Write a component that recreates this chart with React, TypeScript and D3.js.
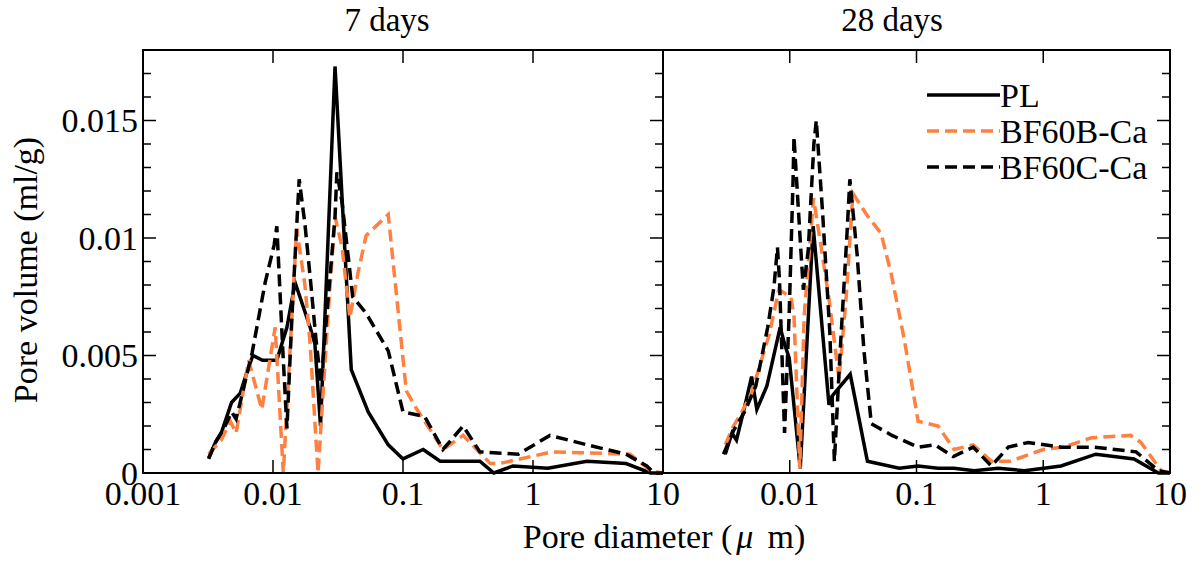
import { useEffect, useRef } from 'react'
import * as d3 from 'd3'

const WIDTH = 1204
const HEIGHT = 570
const TOP = 50
const BOTTOM = 473
const FONT = '"Liberation Serif", "Times New Roman", serif'
const ORANGE = '#ff8040'

const SERIES_NAMES = ['PL', 'BF60B-Ca', 'BF60C-Ca']
const X_TICKS = [0.001, 0.01, 0.1, 1, 10]
const Y_TICKS = [0, 0.005, 0.01, 0.015]
const Y_MINOR = [0.001, 0.002, 0.003, 0.004, 0.006, 0.007, 0.008, 0.009, 0.011, 0.012, 0.013, 0.014, 0.016, 0.017]

// [pore diameter (um), pore volume (ml/g)] — 7 days
const PL_7 = [
  [0.0032, 0.00064], [0.0036, 0.0013], [0.004, 0.0017], [0.0048, 0.003], [0.0056, 0.0034],
  [0.0064, 0.0044], [0.007, 0.005], [0.0083, 0.0048], [0.0107, 0.0048], [0.0128, 0.0062],
  [0.0148, 0.0081], [0.0193, 0.0062], [0.021, 0.0055], [0.0232, 0.002], [0.03, 0.0173],
  [0.04, 0.0044], [0.054, 0.0026], [0.077, 0.0012], [0.1, 0.0006], [0.143, 0.001],
  [0.193, 0.0005], [0.39, 0.0005], [0.5, 0], [0.7, 0.0003], [1.3, 0.0002],
  [2.6, 0.0005], [5.2, 0.0004], [8, 0], [10, 0],
]
const B_7 = [
  [0.0032, 0.0008], [0.004, 0.0014], [0.0047, 0.0022], [0.0052, 0.0017], [0.0065, 0.0048],
  [0.0082, 0.0027], [0.0104, 0.0062], [0.012, 0], [0.014, 0.0067], [0.0152, 0.0104],
  [0.0176, 0.008], [0.0193, 0.0055], [0.0222, 0], [0.0265, 0.0067], [0.03, 0.0109],
  [0.034, 0.0096], [0.039, 0.0066], [0.045, 0.0085], [0.052, 0.0101], [0.077, 0.011],
  [0.106, 0.0035], [0.128, 0.0027], [0.203, 0.001], [0.29, 0.0016], [0.47, 0.0004],
  [0.55, 0.0004], [1.4, 0.0009], [5.6, 0.0008], [8, 0.0001], [10, 0],
]
const C_7 = [
  [0.0032, 0.0006], [0.0036, 0.0013], [0.0042, 0.0019], [0.0048, 0.0026], [0.0052, 0.0023],
  [0.0057, 0.0032], [0.0069, 0.0051], [0.0087, 0.0081], [0.0102, 0.0097], [0.0107, 0.0105],
  [0.0119, 0.0052], [0.0128, 0.0019], [0.014, 0.0067], [0.0159, 0.0125], [0.0176, 0.0106],
  [0.0195, 0.0081], [0.0214, 0.0057], [0.0234, 0.0038], [0.03, 0.0109], [0.031, 0.0128],
  [0.034, 0.0115], [0.039, 0.0086], [0.041, 0.0075], [0.052, 0.0068], [0.077, 0.0052],
  [0.1, 0.0026], [0.147, 0.0024], [0.203, 0.001], [0.29, 0.002], [0.39, 0.0009],
  [0.77, 0.0008], [1.35, 0.0016], [2.6, 0.0012], [5.2, 0.0008], [7.5, 0.0003],
  [8.5, 0], [10, 0],
]

// 28 days
const PL_28 = [
  [0.0031, 0.0008], [0.0035, 0.0017], [0.0038, 0.0014], [0.0044, 0.0028], [0.005, 0.0041],
  [0.0055, 0.0027], [0.0066, 0.0037], [0.0084, 0.0062], [0.0092, 0.0054], [0.0099, 0.0049],
  [0.0121, 0.0002], [0.0153, 0.0105], [0.0204, 0.0029], [0.0218, 0.0033], [0.03, 0.0042],
  [0.041, 0.0005], [0.073, 0.0002], [0.103, 0.0003], [0.148, 0.0002], [0.198, 0.0002],
  [0.285, 0.0001], [0.44, 0.0002], [0.71, 0.0001], [1.38, 0.0003], [2.6, 0.0008],
  [5.2, 0.0006], [8.1, 0], [10, 0],
]
const B_28 = [
  [0.0031, 0.0012], [0.0036, 0.002], [0.0041, 0.0025], [0.005, 0.0034], [0.0059, 0.0047],
  [0.0069, 0.0059], [0.0082, 0.0078], [0.0102, 0.0075], [0.0108, 0.0067], [0.012, 0.0002],
  [0.013, 0.0067], [0.0154, 0.0117], [0.0177, 0.0096], [0.0204, 0.0074], [0.0245, 0.004],
  [0.0278, 0.0074], [0.0315, 0.0119], [0.0415, 0.0109], [0.0525, 0.0102], [0.063, 0.0085],
  [0.08, 0.0057], [0.103, 0.0022], [0.148, 0.002], [0.198, 0.001], [0.28, 0.0012],
  [0.39, 0.0005], [0.55, 0.0005], [1, 0.001], [1.45, 0.0011], [2.4, 0.0015],
  [4.9, 0.0016], [5.9, 0.0013], [8.5, 0.0001], [10, 0],
]
const C_28 = [
  [0.003, 0.0008], [0.0036, 0.0018], [0.0044, 0.0026], [0.0054, 0.0037], [0.0067, 0.0062],
  [0.0075, 0.0079], [0.008, 0.0096], [0.0083, 0.0082], [0.0091, 0.0017], [0.0099, 0.0068],
  [0.0106, 0.0123], [0.0108, 0.0143], [0.0121, 0.0099], [0.0128, 0.0078], [0.014, 0.0095],
  [0.0155, 0.014], [0.0162, 0.015], [0.0182, 0.011], [0.0207, 0.006], [0.0225, 0.0005],
  [0.025, 0.0052], [0.0283, 0.0102], [0.0298, 0.0125], [0.034, 0.0093], [0.0385, 0.0052],
  [0.044, 0.0021], [0.064, 0.0016], [0.103, 0.0011], [0.14, 0.0012], [0.195, 0.0007],
  [0.28, 0.0011], [0.39, 0.0003], [0.53, 0.0011], [0.76, 0.0013], [1.38, 0.0011],
  [2.5, 0.0011], [5.4, 0.0009], [8.1, 0.0001], [10, 0],
]

const STYLES = [
  { color: '#000', dash: null },
  { color: ORANGE, dash: '12 6' },
  { color: '#000', dash: '12 6' },
]

const PANELS = [
  { title: '7 days', x0: 143, x1: 663, titleX: 387, xLabels: X_TICKS, series: [PL_7, B_7, C_7], leftTicks: true, legend: false },
  { title: '28 days', x0: 663, x1: 1170, titleX: 892, xLabels: X_TICKS.slice(1), series: [PL_28, B_28, C_28], leftTicks: false, legend: true },
]

const formatY = (v) => (v === 0 ? '0' : String(+v.toFixed(3)))

export default function App() {
  const svgRef = useRef(null)

  useEffect(() => {
    const svg = d3.select(svgRef.current)
    svg.selectAll('*').remove()
    svg.attr('font-family', FONT)

    const y = d3.scaleLinear().domain([0, 0.018]).range([BOTTOM, TOP])

    PANELS.forEach((panel) => {
      const x = d3.scaleLog().domain([0.001, 10]).range([panel.x0, panel.x1])
      const g = svg.append('g')

      // x ticks, bottom and top, pointing inward
      g.selectAll('line.xb')
        .data(X_TICKS.slice(1, -1))
        .join('line')
        .attr('x1', (d) => x(d)).attr('x2', (d) => x(d))
        .attr('y1', BOTTOM).attr('y2', BOTTOM - 13)
        .attr('stroke', '#000').attr('stroke-width', 1.5)
      g.selectAll('line.xt')
        .data(X_TICKS.slice(1, -1))
        .join('line')
        .attr('x1', (d) => x(d)).attr('x2', (d) => x(d))
        .attr('y1', TOP).attr('y2', TOP + 13)
        .attr('stroke', '#000').attr('stroke-width', 1.5)

      // x tick labels
      g.selectAll('text.xl')
        .data(panel.xLabels)
        .join('text')
        .attr('x', (d) => x(d))
        .attr('y', BOTTOM + 32)
        .attr('text-anchor', 'middle')
        .attr('font-size', 34)
        .text((d) => String(d))

      // y ticks on both sides
      const sides = panel.leftTicks ? [[panel.x0, 1], [panel.x1, -1]] : [[panel.x1, -1]]
      sides.forEach(([sx, dir]) => {
        g.append('g')
          .selectAll('line')
          .data(Y_TICKS.slice(1))
          .join('line')
          .attr('x1', sx).attr('x2', sx + dir * 13)
          .attr('y1', (d) => y(d)).attr('y2', (d) => y(d))
          .attr('stroke', '#000').attr('stroke-width', 1.5)
        g.append('g')
          .selectAll('line')
          .data(Y_MINOR)
          .join('line')
          .attr('x1', sx).attr('x2', sx + dir * 8)
          .attr('y1', (d) => y(d)).attr('y2', (d) => y(d))
          .attr('stroke', '#000').attr('stroke-width', 1.5)
      })

      if (panel.leftTicks) {
        g.selectAll('text.yl')
          .data(Y_TICKS)
          .join('text')
          .attr('x', panel.x0 - 5)
          .attr('y', (d) => y(d))
          .attr('dy', '0.34em')
          .attr('text-anchor', 'end')
          .attr('font-size', 34)
          .text(formatY)
      }

      // series
      const line = d3.line().x((d) => x(d[0])).y((d) => y(d[1]))
      panel.series.forEach((data, i) => {
        g.append('path')
          .datum(data)
          .attr('fill', 'none')
          .attr('stroke', STYLES[i].color)
          .attr('stroke-width', 3.5)
          .attr('stroke-dasharray', STYLES[i].dash)
          .attr('d', line)
      })

      // frame
      g.append('rect')
        .attr('x', panel.x0).attr('y', TOP)
        .attr('width', panel.x1 - panel.x0).attr('height', BOTTOM - TOP)
        .attr('fill', 'none').attr('stroke', '#000').attr('stroke-width', 2)

      g.append('text')
        .attr('x', panel.titleX)
        .attr('y', 31)
        .attr('text-anchor', 'middle')
        .attr('font-size', 33)
        .text(panel.title)

      if (panel.legend) {
        const lg = g.append('g')
        SERIES_NAMES.forEach((name, i) => {
          const ly = 95 + i * 36
          lg.append('line')
            .attr('x1', 927).attr('x2', 1000)
            .attr('y1', ly).attr('y2', ly)
            .attr('stroke', STYLES[i].color)
            .attr('stroke-width', 3.5)
            .attr('stroke-dasharray', STYLES[i].dash)
          lg.append('text')
            .attr('x', 1000)
            .attr('y', ly + 12)
            .attr('font-size', 34)
            .text(name)
        })
      }
    })

    // axis titles
    const xt = svg.append('text')
      .attr('x', 664)
      .attr('y', 548)
      .attr('text-anchor', 'middle')
      .attr('font-size', 34)
    xt.append('tspan').text('Pore diameter (')
    xt.append('tspan').attr('dx', 4).attr('font-style', 'italic').text('μ')
    xt.append('tspan').attr('dx', 14).text('m)')

    svg.append('text')
      .attr('transform', `translate(37,270) rotate(-90)`)
      .attr('text-anchor', 'middle')
      .attr('font-size', 34)
      .text('Pore volume (ml/g)')
  }, [])

  return (
    <>
      <style>{'body{margin:0;background:#fff}'}</style>
      <svg ref={svgRef} width={WIDTH} height={HEIGHT} style={{ display: 'block' }} />
    </>
  )
}
